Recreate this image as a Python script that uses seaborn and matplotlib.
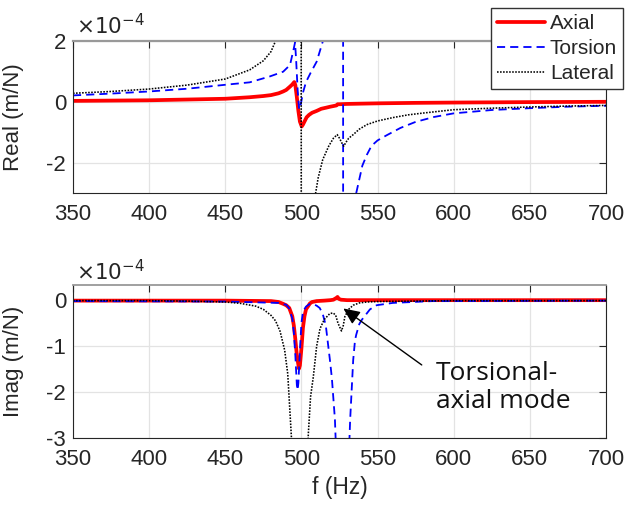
import matplotlib
matplotlib.use("Agg")
import matplotlib.pyplot as plt
import seaborn as sns
import pandas as pd

# ---------------- data (values in units of 1e-4 m/N) ----------------
# Real part
f_ax_re = [350, 400, 450, 466, 475, 480, 485, 488, 490, 492.5, 494, 495.3, 496, 497, 498, 499, 500.2,
           501, 502, 503.4, 505, 507, 510, 513, 516.5, 519, 521, 523, 523.8, 525, 530, 540, 551, 575, 600, 650, 700]
ax_re = [0.03, 0.05, 0.10, 0.15, 0.19, 0.22, 0.28, 0.34, 0.39, 0.50, 0.57, 0.65, 0.55, 0.15, -0.30, -0.65, -0.81,
         -0.75, -0.65, -0.51, -0.43, -0.36, -0.30, -0.23, -0.19, -0.16, -0.14, -0.12, -0.08, -0.08, -0.07, -0.06, -0.05, -0.035, -0.025, -0.01, 0.0]

f_to_re = [350, 375, 400, 425, 450, 466, 479, 488, 492.5, 495, 495.8, 496.5, 497.5, 498.5, 499.5, 501, 503, 506,
           510, 514, 518, 522, 525, 527.3, 527.45, 529, 531, 533, 536, 540, 543, 546, 550, 556, 565, 575, 587, 600,
           625, 650, 675, 700]
to_re = [0.21, 0.27, 0.34, 0.43, 0.56, 0.64, 0.83, 0.99, 1.21, 1.76, 1.95, 1.40, 0.40, -0.25, -0.10, 0.30, 0.65, 0.95,
         1.32, 1.98, 3.0, 5.0, 10.0, 40.0, -40.0, -12.0, -6.0, -4.3, -3.0, -2.1, -1.74, -1.45, -1.27, -1.1, -0.86, -0.66, -0.5, -0.38,
         -0.27, -0.21, -0.16, -0.13]

f_la_re = [350, 375, 400, 425, 450, 466, 475, 480, 483, 487, 491, 494, 497, 499.5, 500.2, 502, 505, 507, 509, 511,
           514, 518, 521, 523.5, 525, 526.5, 527.8, 529, 531, 534, 538, 543, 550, 560, 570, 580, 600, 625, 650, 675, 700]
la_re = [0.28, 0.34, 0.42, 0.55, 0.75, 1.05, 1.35, 1.65, 2.0, 2.6, 3.8, 6.0, 12.0, 40.0, -40.0, -15.0, -7.0, -4.5, -3.1, -2.5,
         -1.9, -1.45, -1.2, -1.08, -1.2, -1.35, -1.46, -1.35, -1.2, -1.08, -0.9, -0.75, -0.63, -0.52, -0.43, -0.37, -0.26, -0.21, -0.17, -0.14, -0.12]

# Imaginary part
f_ax_im = [350, 450, 480, 485, 488, 490, 492, 494, 495, 496, 497, 498.4, 499, 500, 501, 502, 503, 505.6, 507, 510,
           515, 519, 521, 523, 523.7, 524.5, 526, 530, 600, 700]
ax_im = [-0.01, -0.01, -0.02, -0.04, -0.08, -0.11, -0.17, -0.35, -0.55, -0.85, -1.2, -1.49, -1.42, -1.05, -0.6, -0.35, -0.2, -0.07, -0.04, -0.02,
         -0.01, 0.0, 0.01, 0.05, 0.07, 0.03, 0.01, 0.0, 0.0, 0.0]

f_to_im = [350, 450, 485, 490, 492, 494, 495, 496, 497, 497.5, 498, 499, 500, 501, 503, 505.6, 508, 510, 512, 514,
           516, 518.7, 520, 522, 523, 525, 527, 529, 531, 532, 534, 535.2, 536, 538, 539.6, 545, 549.4, 560, 586, 600, 700]
to_im = [-0.02, -0.03, -0.06, -0.1, -0.18, -0.4, -0.7, -1.2, -1.85, -1.96, -1.8, -1.1, -0.5, -0.25, -0.14, -0.08, -0.09, -0.12, -0.17, -0.3,
         -0.55, -1.3, -1.7, -2.6, -3.5, -8.0, -20.0, -8.0, -3.5, -2.6, -1.3, -0.87, -0.75, -0.52, -0.43, -0.2, -0.11, -0.06, -0.02, -0.02, -0.01]

f_la_im = [350, 400, 425, 450, 460, 470, 475, 480, 483, 486, 489, 491, 492, 493.4, 495, 497, 499, 501, 503, 504.5,
           506, 507.8, 510, 512.2, 515, 518.7, 520.9, 522.5, 524, 526.3, 527.5, 528.5, 531, 534, 538, 543, 550, 600, 700]
la_im = [-0.01, -0.01, -0.02, -0.04, -0.07, -0.13, -0.2, -0.33, -0.45, -0.68, -1.09, -1.6, -2.17, -2.97, -5.0, -10.0, -20.0, -12.0, -5.0, -2.93,
         -2.1, -1.67, -1.0, -0.62, -0.42, -0.29, -0.28, -0.33, -0.5, -0.67, -0.55, -0.36, -0.2, -0.11, -0.06, -0.04, -0.03, -0.01, -0.01]

labels = ["Axial", "Torsion", "Lateral"]
x_ticks = [350, 400, 450, 500, 550, 600, 650, 700]
re_ticks = [-2, 0, 2]
im_ticks = [-3, -2, -1, 0]

# ---------------- style ----------------
sns.set_style("white")
plt.rcParams["font.family"] = ["Liberation Sans", "DejaVu Sans"]
plt.rcParams["axes.unicode_minus"] = False

W, H = 636, 508
fig = plt.figure(figsize=(W / 100, H / 100), dpi=100)
ax1 = fig.add_axes([73 / W, 1 - 193 / H, 533 / W, 152 / H])
ax2 = fig.add_axes([73 / W, 1 - 438 / H, 533 / W, 153 / H])

styles = [
    dict(color="#ff0000", linewidth=2.7, linestyle="-"),
    dict(color="#0000ff", linewidth=1.3, linestyle=(0, (4.5, 2.8))),
    dict(color="#000000", linewidth=1.15, linestyle=(0, (1, 0.9))),
]

re_sets = [(f_ax_re, ax_re), (f_to_re, to_re), (f_la_re, la_re)]
im_sets = [(f_ax_im, ax_im), (f_to_im, to_im), (f_la_im, la_im)]

for (fx, vy), lab, st in zip(re_sets, labels, styles):
    df = pd.DataFrame({"f": fx, "v": vy})
    sns.lineplot(data=df, x="f", y="v", ax=ax1, label=lab, sort=False, estimator=None, **st)
for (fx, vy), lab, st in zip(im_sets, labels, styles):
    df = pd.DataFrame({"f": fx, "v": vy})
    sns.lineplot(data=df, x="f", y="v", ax=ax2, sort=False, estimator=None, legend=False, **st)

tick_col = "#262626"
for ax, yt, ylim, ylab in [(ax1, re_ticks, (-3, 2), "Real (m/N)"),
                           (ax2, im_ticks, (-3, 0.33), "Imag (m/N)")]:
    ax.set_xlim(350, 700)
    ax.set_ylim(*ylim)
    ax.set_xticks(x_ticks)
    ax.set_xticklabels([str(t) for t in x_ticks])
    ax.set_yticks(yt)
    ax.set_yticklabels([str(t) for t in yt])
    ax.grid(True, color="#e3e3e3", linewidth=0.9)
    ax.set_axisbelow(True)
    ax.tick_params(direction="in", top=True, right=True, length=5, width=0.8,
                   colors=tick_col, labelsize=16)
    ax.tick_params(axis="x", pad=8)
    ax.tick_params(axis="y", pad=5)
    for s in ax.spines.values():
        s.set_color(tick_col)
        s.set_linewidth(0.8)
    ax.set_ylabel(ylab, fontsize=16, color=tick_col, labelpad=4)
    ax.set_xlabel("")

ax1.spines["top"].set_color("#999999")
ax1.spines["top"].set_linewidth(1.6)
ax2.spines["top"].set_color("#999999")
ax2.spines["top"].set_linewidth(1.3)
ax1.yaxis.set_label_coords(-0.092, 0.5)
ax2.yaxis.set_label_coords(-0.092, 0.5)
ax2.set_xlabel("f (Hz)", fontsize=16.5, color=tick_col, labelpad=4)

# exponent labels
fig.text(76 / W, 1 - 34 / H, r"$\times10^{-4}$", fontsize=15.5, color=tick_col, va="baseline",
         math_fontfamily="dejavusans")
fig.text(76 / W, 1 - 280 / H, r"$\times10^{-4}$", fontsize=15.5, color=tick_col, va="baseline",
         math_fontfamily="dejavusans")

# legend
leg = ax1.legend(loc="upper right", bbox_to_anchor=(623 / W, 1 - 8 / H), bbox_transform=fig.transFigure,
                 fontsize=15, frameon=True, fancybox=False, framealpha=1, edgecolor="#333333",
                 handlelength=2.3, handletextpad=0.25, labelspacing=0.3, borderpad=0.28, borderaxespad=0)
leg.get_frame().set_linewidth(1.0)

# annotation
ax2.annotate("", xy=(527.5, -0.18), xytext=(579, -1.41),
             arrowprops=dict(arrowstyle="-|>,head_length=1.0,head_width=0.45", color="black", lw=1.0,
                             shrinkA=0, shrinkB=0))
ax2.text(588.5, -1.9, "Torsional-\naxial mode", fontsize=19, color="#111111",
         family=["Open Sans", "DejaVu Sans"], va="center", ha="left", linespacing=1.15)

fig.savefig("out.png", dpi=100)
